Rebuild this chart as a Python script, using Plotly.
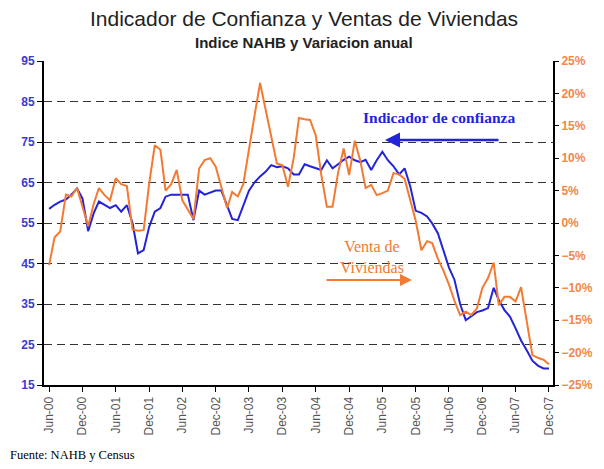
import pandas as pd
import plotly.graph_objects as go

# monthly data Jun-2000 .. Dec-2007
months = pd.date_range("2000-06-01", periods=91, freq="MS")

# NAHB housing market index (left axis)
nahb = [58.5, 59.5, 60.3, 60.8, 62.0, 63.5, 61.0, 53.0, 57.5, 60.3,
        59.5, 58.7, 59.4, 57.8, 59.4, 55.0, 47.5, 48.3, 54.0, 57.8,
        58.7, 61.5, 62.0, 62.0, 62.0, 62.0, 55.7, 63.0, 62.0, 62.5,
        63.0, 63.0, 59.5, 56.0, 55.7, 59.5, 63.0, 65.0, 66.5, 67.7,
        69.3, 68.8, 69.0, 68.5, 67.0, 67.0, 69.5, 69.0, 68.5, 68.1,
        70.5, 68.5, 69.5, 70.6, 71.4, 70.5, 70.0, 70.6, 68.1, 70.5,
        72.6, 70.5, 69.0, 67.0, 68.5, 64.0, 58.0, 57.5, 56.6, 54.9,
        52.5, 48.0, 44.0, 41.0, 35.0, 31.0, 31.9, 33.0, 33.4, 34.0,
        39.0, 36.0, 33.5, 31.9, 29.0, 26.0, 23.6, 21.0, 19.8, 19.1, 19.1]

# home sales, annual change in % (right axis)
ventas = [-6.5, -2.2, -1.3, 4.4, 4.1, 5.4, 2.5, -0.5, 3.0, 5.4,
          4.3, 3.5, 6.9, 6.0, 5.7, -1.0, -1.2, -1.1, 6.0, 12.0,
          11.3, 5.0, 6.0, 8.2, 3.5, 2.0, 0.6, 8.4, 9.7, 10.0,
          8.7, 5.5, 2.3, 4.8, 4.1, 6.0, 11.0, 16.5, 21.6, 17.5,
          13.0, 9.2, 8.9, 5.6, 10.0, 16.2, 16.0, 15.9, 13.5, 7.5,
          2.5, 2.5, 7.7, 11.5, 7.4, 12.7, 9.5, 5.4, 5.9, 4.3,
          4.6, 5.0, 7.7, 7.5, 6.8, 3.5, 0.3, -4.2, -2.8, -3.1,
          -5.5, -7.3, -9.5, -12.0, -14.2, -13.7, -14.2, -13.2, -10.0, -8.5,
          -6.1, -12.7, -11.4, -11.4, -12.1, -9.9, -15.0, -20.4, -20.8, -21.1, -21.8]

blue = "#2323D8"
orange = "#F27A32"

fig = go.Figure()
fig.add_trace(go.Scatter(x=months, y=nahb, mode="lines", name="Indicador de confianza",
                         line=dict(color=blue, width=2)))
fig.add_trace(go.Scatter(x=months, y=ventas, mode="lines", name="Venta de Viviendas",
                         line=dict(color=orange, width=2), yaxis="y2"))

# page body has an 8px margin, so the figure is 8px smaller each way
fig.update_layout(
    width=596, height=461,
    margin=dict(l=36, r=51, t=53, b=84),
    paper_bgcolor="white", plot_bgcolor="white",
    showlegend=False,
    font=dict(family="Liberation Sans, Arial", color="#333"),
    xaxis=dict(type="date", range=["2000-05-04", "2007-12-23"],
               tick0="2000-06-01", dtick="M6", tickformat="%b-%y", tickangle=-90,
               ticks="outside", ticklen=5, tickcolor="black",
               showline=True, linecolor="black", linewidth=2, showgrid=False,
               tickfont=dict(size=12, color="#555")),
    yaxis=dict(range=[15, 95], tick0=15, dtick=10, ticks="outside", ticklen=5, tickcolor="black",
               showline=True, linecolor="black", linewidth=2,
               showgrid=True, gridcolor="#333", griddash="8px,5px", gridwidth=1.3,
               zeroline=False,
               tickfont=dict(size=12, color="#3A3ACF", weight="bold")),
    yaxis2=dict(range=[-25, 25], dtick=5, overlaying="y", side="right",
                ticks="outside", ticklen=4, tickcolor="black", ticksuffix="%",
                showline=True, linecolor="black", linewidth=2,
                showgrid=False, zeroline=False,
                tickfont=dict(size=12, color="#F0884A", weight="bold")),
)

# titles
fig.add_annotation(text="Indicador de Confianza y Ventas de Viviendas", xref="paper", yref="paper",
                   x=0.51, y=1.131, showarrow=False, xanchor="center", yanchor="middle",
                   font=dict(size=21, color="#222", family="Liberation Sans, Arial"))
fig.add_annotation(text="<b>Indice NAHB y Variacion anual</b>", xref="paper", yref="paper",
                   x=0.51, y=1.058, showarrow=False, xanchor="center", yanchor="middle",
                   font=dict(size=15, color="#222", family="Liberation Sans, Arial"))

# series labels with arrows
fig.add_annotation(text="<b>Indicador de confianza</b>", xref="paper", yref="paper",
                   x=0.777, y=0.827, showarrow=False, xanchor="center", yanchor="middle",
                   font=dict(size=15.5, color=blue, family="Liberation Serif, Times New Roman"))
fig.add_annotation(text="", xref="paper", yref="paper", x=0.670, y=0.756,
                   ax=115, ay=0, showarrow=True, arrowhead=2, arrowsize=1.2,
                   arrowwidth=2.5, arrowcolor=blue)
fig.add_annotation(text="Venta de<br>Viviendas", xref="paper", yref="paper",
                   x=0.644, y=0.395, showarrow=False, xanchor="center", yanchor="middle",
                   font=dict(size=16, color=orange, family="Liberation Serif, Times New Roman"))
fig.add_annotation(text="", xref="paper", yref="paper", x=0.723, y=0.324,
                   ax=-87, ay=0, showarrow=True, arrowhead=2, arrowsize=1.2,
                   arrowwidth=2, arrowcolor=orange)

# source
fig.add_annotation(text="Fuente: NAHB y Census", xref="paper", yref="paper",
                   x=-0.07, y=-0.216, showarrow=False, xanchor="left", yanchor="middle",
                   font=dict(size=12.5, color="black", family="Liberation Serif, Times New Roman"))

fig.write_html("out.html")
